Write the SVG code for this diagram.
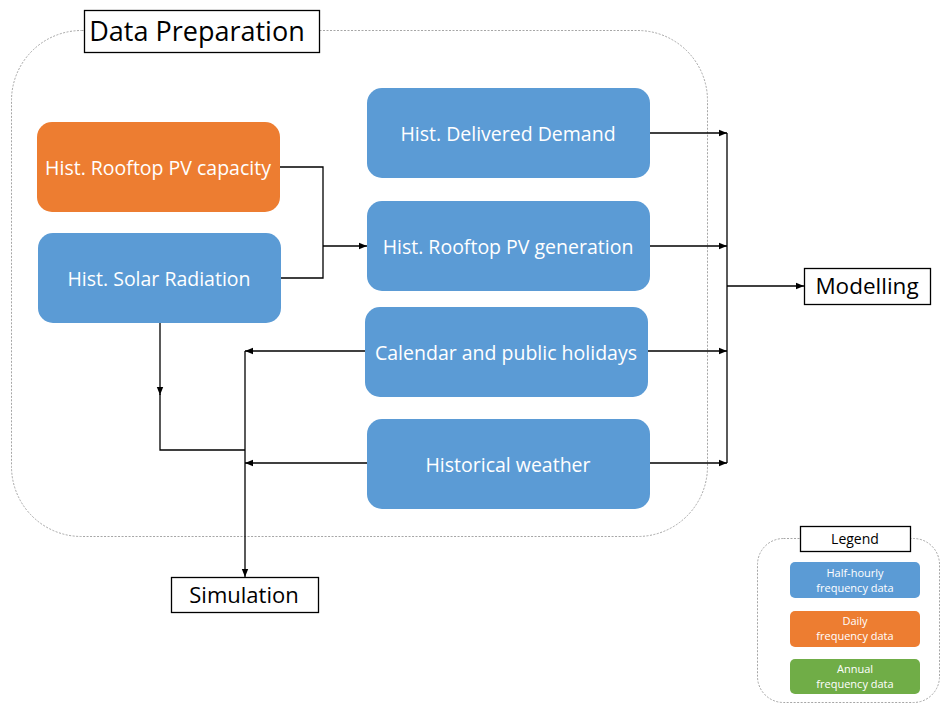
<svg xmlns="http://www.w3.org/2000/svg" width="940" height="704" viewBox="0 0 940 704">
  <defs>
    <marker id="arrow" viewBox="0 0 10 10" refX="10" refY="5" markerWidth="8" markerHeight="8" markerUnits="userSpaceOnUse" orient="auto">
      <path d="M0,1 L10,5 L0,9 z" fill="#000"/>
    </marker>
    <style>
      .frame { fill: none; stroke: #a6a6a6; stroke-width: 1; stroke-dasharray: 2 1.5; }
      .label { fill: #fff; stroke: #000; stroke-width: 1.3; }
      .label-text { font-family: "Open Sans", "Liberation Sans", sans-serif; fill: #000; text-anchor: middle; }
      .blue { fill: #5b9bd5; }
      .orange { fill: #ed7d31; }
      .green { fill: #70ad47; }
      .node-text { font-family: "Open Sans", "Liberation Sans", sans-serif; font-size: 19.5px; fill: #fff; text-anchor: middle; dominant-baseline: central; }
      .legend-text { font-family: "Open Sans", "Liberation Sans", sans-serif; font-size: 11px; fill: #fff; text-anchor: middle; }
      .wire { fill: none; stroke: #000; stroke-width: 1.3; }
    </style>
  </defs>

  <rect width="940" height="704" fill="#fff"/>

  <!-- Data preparation frame -->
  <g id="data-preparation">
    <rect class="frame" x="11.5" y="30.5" width="696" height="506" rx="70" ry="70"/>
    <rect class="label" x="84.5" y="10.5" width="235" height="42"/>
    <text class="label-text" x="197" y="41" font-size="27">Data Preparation</text>
  </g>

  <!-- Data sources -->
  <g id="rooftop-pv-capacity">
    <rect class="orange" x="37" y="122" width="243" height="90" rx="15"/>
    <text class="node-text" x="158" y="167">Hist. Rooftop PV capacity</text>
  </g>
  <g id="solar-radiation">
    <rect class="blue" x="38" y="233" width="243" height="90" rx="15"/>
    <text class="node-text" x="159" y="278">Hist. Solar Radiation</text>
  </g>
  <g id="delivered-demand">
    <rect class="blue" x="367" y="88" width="283" height="90" rx="15"/>
    <text class="node-text" x="508" y="133">Hist. Delivered Demand</text>
  </g>
  <g id="rooftop-pv-generation">
    <rect class="blue" x="367" y="201" width="283" height="90" rx="15"/>
    <text class="node-text" x="508" y="246">Hist. Rooftop PV generation</text>
  </g>
  <g id="calendar">
    <rect class="blue" x="365" y="307" width="283" height="90" rx="15"/>
    <text class="node-text" x="506" y="352">Calendar and public holidays</text>
  </g>
  <g id="historical-weather">
    <rect class="blue" x="367" y="419" width="283" height="90" rx="15"/>
    <text class="node-text" x="508" y="464">Historical weather</text>
  </g>

  <!-- Outputs -->
  <g id="modelling">
    <rect class="label" x="804.5" y="268.5" width="126" height="36"/>
    <text class="label-text" x="867" y="294" font-size="22.5">Modelling</text>
  </g>
  <g id="simulation">
    <rect class="label" x="171.5" y="577.5" width="147" height="35"/>
    <text class="label-text" x="244" y="603" font-size="22">Simulation</text>
  </g>

  <!-- Legend -->
  <g id="legend">
    <rect class="frame" x="757.5" y="538.5" width="182" height="164" rx="26" ry="26"/>
    <rect class="label" x="800.5" y="526.5" width="110" height="25"/>
    <text class="label-text" x="855" y="544" font-size="14">Legend</text>
    <rect class="blue" x="790" y="562" width="130" height="36" rx="5"/>
    <text class="legend-text" x="855" y="577">Half-hourly</text>
    <text class="legend-text" x="855" y="592">frequency data</text>
    <rect class="orange" x="790" y="611" width="130" height="36" rx="5"/>
    <text class="legend-text" x="855" y="625">Daily</text>
    <text class="legend-text" x="855" y="640">frequency data</text>
    <rect class="green" x="790" y="659" width="130" height="35" rx="5"/>
    <text class="legend-text" x="855" y="673">Annual</text>
    <text class="legend-text" x="855" y="688">frequency data</text>
  </g>

  <!-- Connectors -->
  <g id="connectors">
    <!-- capacity + radiation feed PV generation -->
    <polyline class="wire" points="280,167 323,167 323,278 281,278"/>
    <line class="wire" x1="323" y1="246" x2="367" y2="246" marker-end="url(#arrow)"/>

    <!-- inputs to modelling -->
    <line class="wire" x1="650" y1="133" x2="727" y2="133" marker-end="url(#arrow)"/>
    <line class="wire" x1="650" y1="246" x2="727" y2="246" marker-end="url(#arrow)"/>
    <line class="wire" x1="648" y1="351" x2="727" y2="351" marker-end="url(#arrow)"/>
    <line class="wire" x1="650" y1="463" x2="727" y2="463" marker-end="url(#arrow)"/>
    <line class="wire" x1="727" y1="133" x2="727" y2="463"/>
    <line class="wire" x1="727" y1="286" x2="804" y2="286" marker-end="url(#arrow)"/>

    <!-- inputs to simulation -->
    <line class="wire" x1="160" y1="323" x2="160" y2="395" marker-end="url(#arrow)"/>
    <polyline class="wire" points="160,394 160,450 245,450"/>
    <line class="wire" x1="365" y1="351" x2="245" y2="351" marker-end="url(#arrow)"/>
    <line class="wire" x1="367" y1="463" x2="245" y2="463" marker-end="url(#arrow)"/>
    <line class="wire" x1="245" y1="351" x2="245" y2="577" marker-end="url(#arrow)"/>
  </g>
</svg>
